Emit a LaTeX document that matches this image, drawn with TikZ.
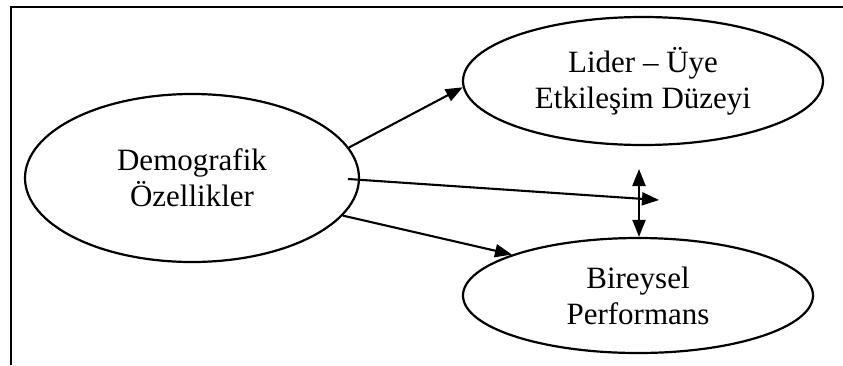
\documentclass[tikz,border=0pt]{standalone}
\usepackage{fontspec}
\setmainfont{Liberation Serif}
\usetikzlibrary{arrows.meta,shapes.geometric}
\begin{document}
\begin{tikzpicture}[x=1pt,y=-1pt,
  oval/.style={ellipse,draw,line width=2.2pt,inner sep=0pt,align=center,
    font=\fontsize{31}{36}\selectfont},
  link/.style={line width=2.1pt,-{Triangle[length=17pt,width=13pt]}},
  twoway/.style={line width=2.1pt,{Triangle[length=17pt,width=13pt]}-{Triangle[length=17pt,width=13pt]}},
  frame/.style={line width=2.2pt}]
  \useasboundingbox (0,0) rectangle (843,365);

  % open frame: top edge and left edge only
  \coordinate (fl) at (11,365);
  \coordinate (fc) at (11,7);
  \coordinate (fr) at (843,7);
  \draw[frame] (fl) -- (fc) -- (fr);

  % the three concepts
  \node[oval,minimum width=334pt,minimum height=168pt] (dem) at (192,178)
    {Demografik\\Özellikler};
  \node[oval,minimum width=360pt,minimum height=128pt] (lid) at (643,81)
    {Lider – Üye\\Etkileşim Düzeyi};
  \node[oval,minimum width=350pt,minimum height=115pt] (bir) at (638,295.5)
    {Bireysel\\Performans};

  % effects
  \coordinate (mstart) at (348,179);
  \coordinate (mend) at (659,200);
  \coordinate (vtop) at (639,169);
  \draw[link] (dem.11) -- (lid.182);
  \draw[link] (mstart) -- (mend);
  \draw[link] (dem.-14) -- (bir.162);
  \draw[twoway] (vtop) -- (vtop |- bir.north);
\end{tikzpicture}
\end{document}
